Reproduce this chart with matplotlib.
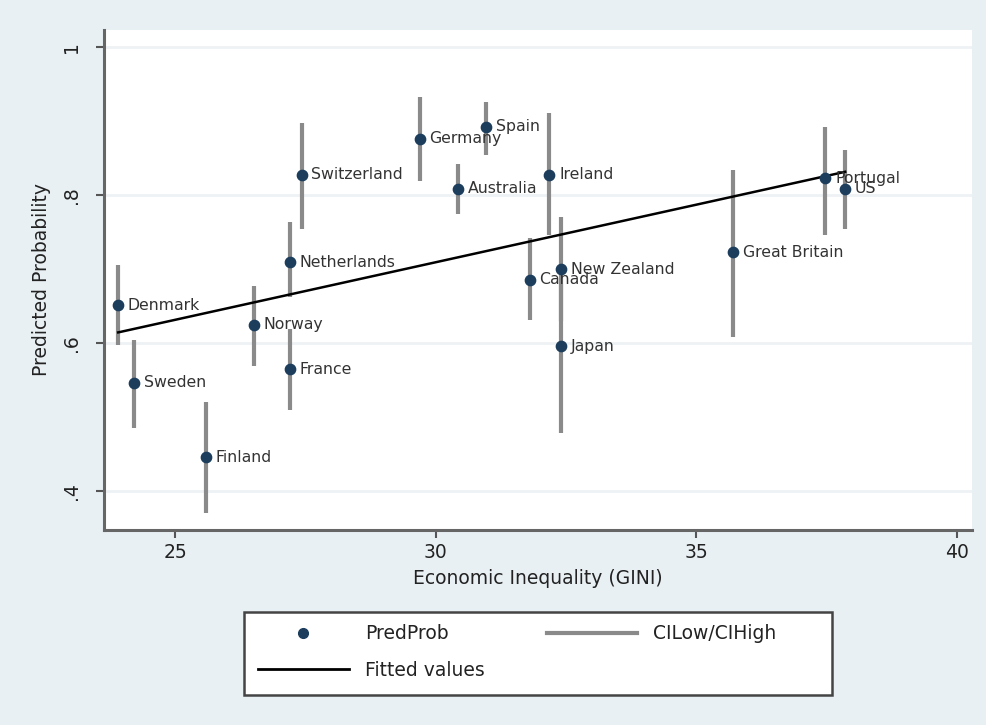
import matplotlib.pyplot as plt
from matplotlib.lines import Line2D
from matplotlib.patches import Rectangle

# countries, GINI, predicted probability and CI
countries = ["Denmark", "Sweden", "Finland", "Norway", "France", "Netherlands",
             "Switzerland", "Germany", "Spain", "Australia", "Ireland", "Canada",
             "New Zealand", "Japan", "Great Britain", "Portugal", "US"]
gini = [23.9, 24.2, 25.58, 26.5, 27.2, 27.2, 27.42, 29.69, 30.97, 30.42,
        32.18, 31.8, 32.4, 32.4, 35.71, 37.48, 37.86]
predprob = [0.651, 0.546, 0.445, 0.624, 0.564, 0.709, 0.827, 0.876, 0.892, 0.808,
            0.827, 0.685, 0.699, 0.595, 0.722, 0.822, 0.808]
ci_low = [0.597, 0.485, 0.370, 0.568, 0.509, 0.662, 0.754, 0.818, 0.854, 0.774,
          0.746, 0.631, 0.630, 0.478, 0.608, 0.746, 0.754]
ci_high = [0.705, 0.604, 0.520, 0.677, 0.618, 0.763, 0.897, 0.932, 0.926, 0.841,
           0.911, 0.742, 0.770, 0.680, 0.834, 0.891, 0.861]

# fitted line endpoints
fit_x = [23.9, 37.86]
fit_y = [0.614, 0.831]

xticks = [25, 30, 35, 40]
yticks = [0.4, 0.6, 0.8, 1.0]
yticklabels = [".4", ".6", ".8", "1"]

bg = "#e9f0f3"
navy = "#1c3d5c"
grey = "#8a8a8a"

fig = plt.figure(figsize=(9.87, 7.25), dpi=100, facecolor=bg)
ax = fig.add_axes([0.105, 0.269, 0.88, 0.69])
ax.set_facecolor("white")

for y in yticks:
    ax.axhline(y, color="#eef2f4", lw=2, zorder=0)

ax.vlines(gini, ci_low, ci_high, color=grey, lw=3, zorder=2)
ax.plot(fit_x, fit_y, color="black", lw=1.8, zorder=3)
ax.scatter(gini, predprob, s=55, color=navy, zorder=4)
for c, x, y in zip(countries, gini, predprob):
    ax.annotate(c, (x, y), xytext=(7, 0), textcoords="offset points",
                va="center", ha="left", fontsize=11.3, color="#333333", zorder=5)

ax.set_xlim(23.62, 40.3)
ax.set_ylim(0.347, 1.023)
ax.set_xticks(xticks)
ax.set_yticks(yticks)
ax.set_yticklabels(yticklabels, rotation=90, va="center")
ax.tick_params(axis="both", labelsize=13.5, color="#555555", width=1.5, length=6,
               labelcolor="#222222")
ax.tick_params(axis="y", pad=10)
for s in ["top", "right"]:
    ax.spines[s].set_visible(False)
for s in ["left", "bottom"]:
    ax.spines[s].set_color("#666666")
    ax.spines[s].set_linewidth(2.2)

ax.set_xlabel("Economic Inequality (GINI)", fontsize=13.5, color="#222222", labelpad=5)
ax.set_ylabel("Predicted Probability", fontsize=13.5, color="#222222", labelpad=8)

# legend box
fig.patches.append(Rectangle((0.2472, 0.0414), 0.5957, 0.1145, transform=fig.transFigure,
                             facecolor="white", edgecolor="#444444", lw=1.8, zorder=0))
handles = [
    Line2D([], [], marker="o", color=navy, ls="none", markersize=7),
    Line2D([], [], color="black", lw=2),
    Line2D([], [], color=grey, lw=3),
]
labels = ["PredProb", "Fitted values", "CILow/CIHigh"]
leg = fig.legend(handles, labels, ncol=2, loc="upper left",
                 bbox_to_anchor=(0.2614, 0.1390), bbox_transform=fig.transFigure,
                 fontsize=13.5, handlelength=4.85, handletextpad=0.85,
                 columnspacing=3.3, labelspacing=0.95, frameon=False,
                 borderpad=0, borderaxespad=0)
for t in leg.get_texts():
    t.set_color("#222222")

fig.savefig("out.png", dpi=100, facecolor=bg)
